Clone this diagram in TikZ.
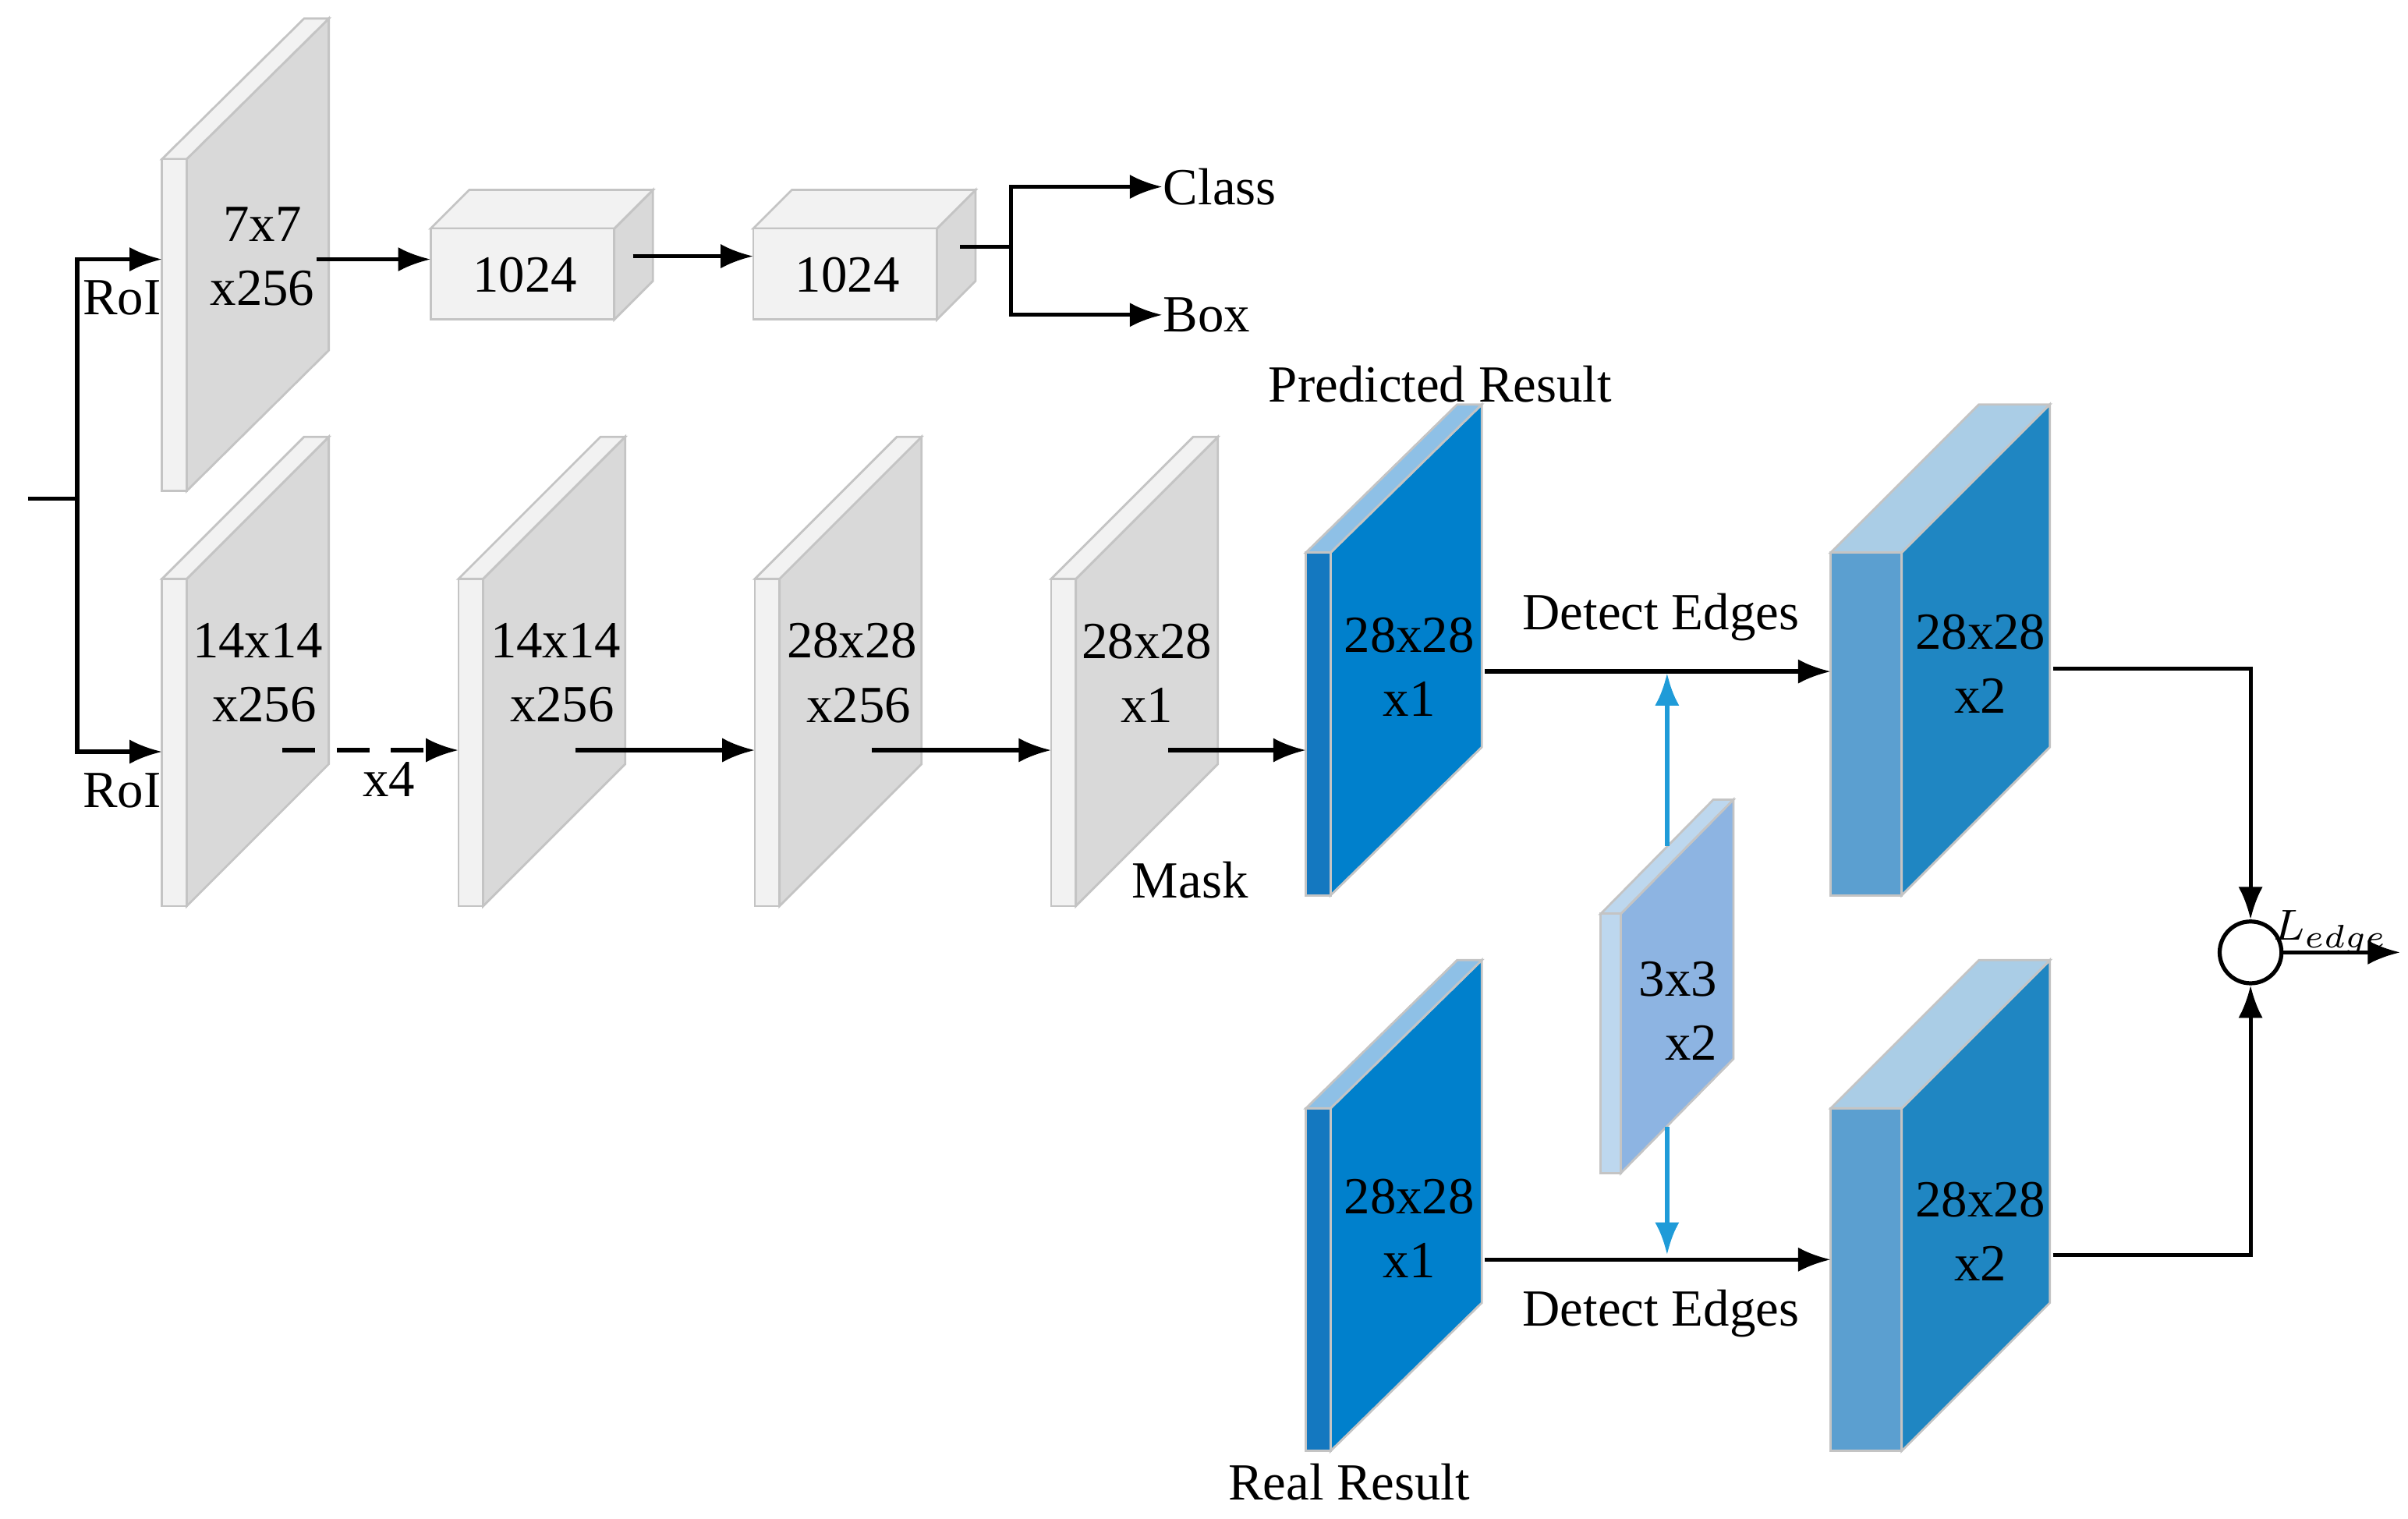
\documentclass[tikz,border=0pt]{standalone}
\usepackage{fontspec}
\setmainfont{Liberation Serif}
\usetikzlibrary{arrows.meta}
\begin{document}
\begin{tikzpicture}[x=0.01cm,y=-0.01cm,
  lbl/.style={font=\fontsize{9.6}{11.8}\selectfont,align=center,inner sep=0},
  arr/.style={-{Latex[length=6pt,width=4.5pt]},line width=0.75pt},
  ln/.style={line width=0.75pt}]
\definecolor{gfront}{HTML}{F2F2F2}\definecolor{gside}{HTML}{D9D9D9}\definecolor{gedge}{HTML}{C4C4C4}
\definecolor{bfront}{HTML}{1478C0}\definecolor{bside}{HTML}{0080CC}\definecolor{btop}{HTML}{8EC0E6}
\definecolor{ofront}{HTML}{5B9FD0}\definecolor{oside}{HTML}{1F86C2}\definecolor{otop}{HTML}{AACDE6}
\definecolor{sfront}{HTML}{BDD7EE}\definecolor{sside}{HTML}{8DB4E2}\definecolor{sarr}{HTML}{1F9BD8}
\newcommand\slab[9]{% x, ytop, w, h, dx, dy, front, side, top
  \fill[#8,draw=gedge] (#1+#3,#2) -- ++(#5,-#6) -- ++(0,#4) -- (#1+#3,#2+#4) -- cycle;
  \fill[#9,draw=gedge] (#1,#2) -- ++(#5,-#6) -- ++(#3,0) -- (#1+#3,#2) -- cycle;
  \fill[#7,draw=gedge] (#1,#2) rectangle ++(#3,#4);}
\useasboundingbox (0,0) rectangle (1560,984);
\slab{105}{103}{16}{215}{92}{91}{gfront}{gside}{gfront}
\slab{105}{375}{16}{212}{92}{92}{gfront}{gside}{gfront}
\slab{297}{375}{16}{212}{92}{92}{gfront}{gside}{gfront}
\slab{489}{375}{16}{212}{92}{92}{gfront}{gside}{gfront}
\slab{681}{375}{16}{212}{92}{92}{gfront}{gside}{gfront}
\slab{279}{148}{119}{59}{25}{25}{gfront}{gside}{gfront}
\slab{488}{148}{119}{59}{25}{25}{gfront}{gside}{gfront}
\slab{846}{358}{16}{222}{98}{96}{bfront}{bside}{btop}
\slab{846}{718}{16}{222}{98}{96}{bfront}{bside}{btop}
\slab{1186}{358}{46}{222}{96}{96}{ofront}{oside}{otop}
\slab{1186}{718}{46}{222}{96}{96}{ofront}{oside}{otop}
\slab{1037}{592}{13}{168}{73}{74}{sfront}{sside}{sfront}
\node[lbl] (t1) at (170,166) {7x7\\x256};
\node[lbl] (t2) at (167,436) {14x14\\ \ x256};
\node[lbl] (t3) at (360,436) {14x14\\ \ x256};
\node[lbl] (t4) at (552,436) {28x28\\ \ x256};
\node[lbl] (t5) at (743,436) {28x28\\x1};
\node[lbl] (t6) at (913,432) {28x28\\x1};
\node[lbl] (t7) at (913,796) {28x28\\x1};
\node[lbl] (t8) at (1283,430) {28x28\\x2};
\node[lbl] (t9) at (1283,798) {28x28\\x2};
\node[lbl] (t10) at (1087,655) {3x3\\ \ \ x2};
\node[lbl] (f1) at (340,178) {1024};
\node[lbl] (f2) at (549,178) {1024};
\node[lbl,anchor=west] (cls) at (753,121) {Class};
\node[lbl,anchor=west] (box) at (753,204) {Box};
\node[lbl] (r1) at (79,193) {RoI};
\node[lbl] (r2) at (79,512) {RoI};
\node[lbl] (x4) at (252,505) {x4};
\node[lbl] (mask) at (771,570) {Mask};
\node[lbl] (pr) at (933,249) {Predicted Result};
\node[lbl] (rr) at (874,960) {Real Result};
\node[lbl] (de1) at (1076,400) {Detect Edges};
\node[lbl] (de2) at (1076,851) {Detect Edges};
\node[draw,circle,inner sep=0,minimum size=0.4cm,line width=0.75pt,fill=white] (c) at (1458,617) {};
\node[lbl,anchor=south west,font=\fontsize{8.5}{10}\selectfont] (le) at (1472,619) {$L_{edge}$};
\coordinate (in) at (18,323); \coordinate (sp) at (50,323);
\draw[ln] (in) -- (sp);
\draw[arr] (sp) |- (105,168);
\draw[arr] (sp) |- (105,487);
\draw[arr] (205,168) -- (279,168);
\draw[arr] (410,166) -- (488,166);
\draw[ln] (622,160) -- (655,160);
\draw[arr] (655,160) |- (cls.west);
\draw[arr] (655,160) |- (box.west);
\draw[arr,dash pattern=on 6pt off 4pt] (183,486) -- (297,486);
\draw[arr] (373,486) -- (489,486);
\draw[arr] (565,486) -- (681,486);
\draw[arr] (757,486) -- (846,486);
\draw[arr] (962,435) -- (1186,435);
\draw[arr] (962,816) -- (1186,816);
\draw[arr,sarr,line width=0.9pt] (1080,548) -- (1080,436);
\draw[arr,sarr,line width=0.9pt] (1080,730) -- (1080,813);
\draw[arr] (1330,433) -| (c.north);
\draw[arr] (1330,813) -| (c.south);
\draw[arr] (c.east) -- (1555,617);
\end{tikzpicture}
\end{document}
